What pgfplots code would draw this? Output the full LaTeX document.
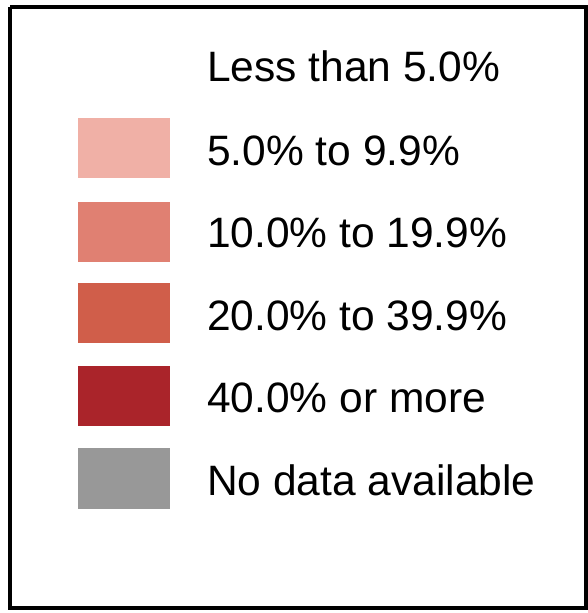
\documentclass[border=0pt]{standalone}
\usepackage{fontspec}
\setmainfont{Liberation Sans}
\usepackage{pgfplots}
\pgfplotsset{compat=1.18}
\definecolor{c1}{RGB}{240,176,166}
\definecolor{c2}{RGB}{224,128,114}
\definecolor{c3}{RGB}{208,94,74}
\definecolor{c4}{RGB}{170,36,42}
\definecolor{c5}{RGB}{152,152,152}
\begin{document}
\begin{tikzpicture}
\begin{axis}[
  width=588bp, height=613bp, scale only axis,
  xmin=0, xmax=588, ymin=0, ymax=613, y dir=reverse,
  hide axis, clip=false,
]
\path (axis cs:0,0) rectangle (axis cs:588,613);
% frame
\addplot[black, line width=4bp] coordinates {(10,7) (586,7) (586,608) (10,608) (10,7)};
% swatches
\addplot[fill=c1, draw=none] coordinates {(78,118) (170,118) (170,178) (78,178)};
\addplot[fill=c2, draw=none] coordinates {(78,202) (170,202) (170,262) (78,262)};
\addplot[fill=c3, draw=none] coordinates {(78,283) (170,283) (170,343) (78,343)};
\addplot[fill=c4, draw=none] coordinates {(78,366) (170,366) (170,426) (78,426)};
\addplot[fill=c5, draw=none] coordinates {(78,448) (170,448) (170,509) (78,509)};
\begin{scope}[every node/.style={anchor=base west, inner sep=0pt, font=\fontsize{42.5bp}{50bp}\selectfont}]
\node at (axis cs:207,82) {Less than 5.0\%};
\node at (axis cs:207,165) {5.0\% to 9.9\%};
\node at (axis cs:207,247) {10.0\% to 19.9\%};
\node at (axis cs:207,330) {20.0\% to 39.9\%};
\node at (axis cs:207,412) {40.0\% or more};
\node at (axis cs:207,495) {No data available};
\end{scope}
\end{axis}
\end{tikzpicture}
\end{document}
